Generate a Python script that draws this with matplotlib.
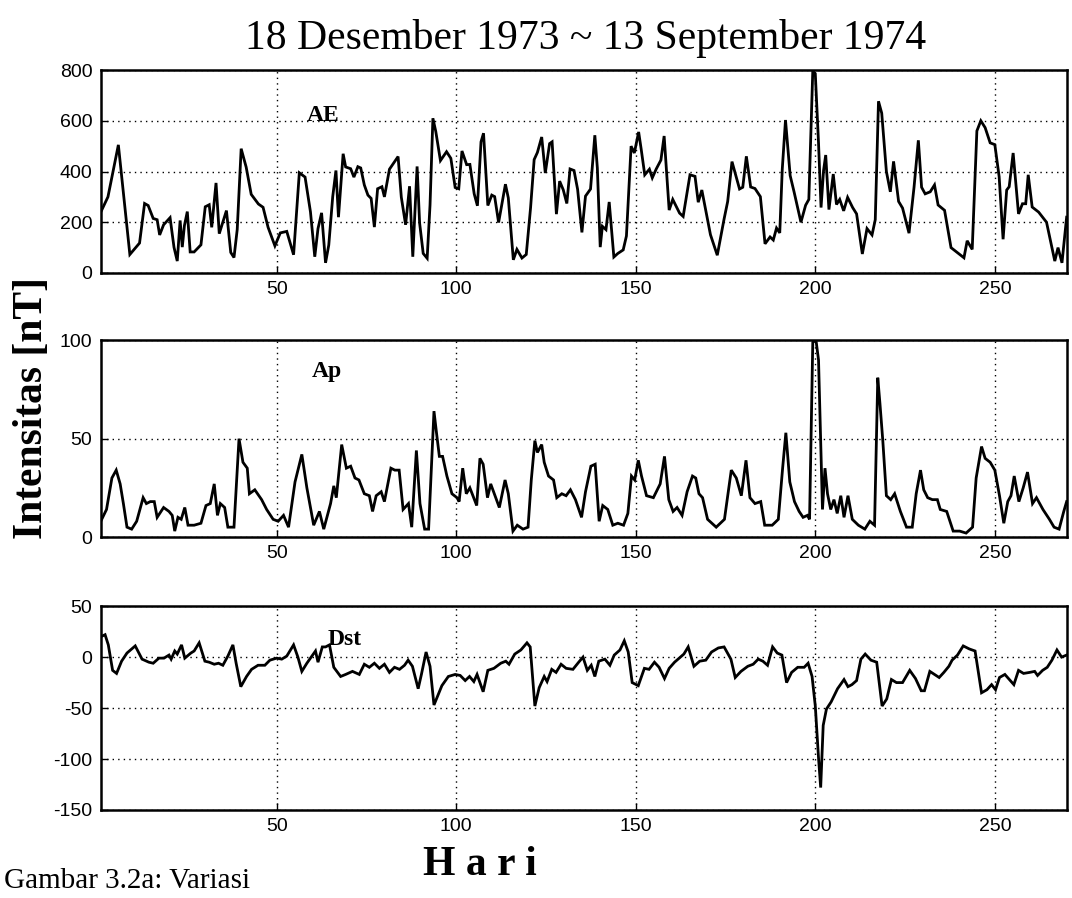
import matplotlib
matplotlib.use("Agg")
import matplotlib.pyplot as plt

# ---------------- data ----------------
title_text = "18 Desember 1973 ~ 13 September 1974"
panel_names = ["AE", "Ap", "Dst"]

ae_days = [1, 3, 5.9, 9.1, 11.8, 13.2, 14.2, 15.6, 16.7, 17.4, 18.5, 20.3, 21.4, 22.3, 23.1, 23.7, 24.3, 25.1,
           25.9, 27, 28.9, 30.1, 31.2, 31.9, 33.1, 34, 36, 37.2, 38.1, 39, 40.1, 41.5, 42.9, 44.9, 46.2, 47.6,
           49.5, 51, 52.8, 54.7, 56.3, 57.9, 59.4, 60.6, 61.5, 62.5, 63.6, 64.5, 65.6, 66.5, 67.2, 68.5, 69.2,
           70.6, 71.5, 72.6, 73.4, 74.4, 75.4, 76.3, 77.2, 78.1, 79.3, 80, 81.4, 82.8, 83.8, 84.7, 85.9, 87,
           87.9, 89.1, 89.8, 90.8, 91.9, 92.7, 93.5, 94.3, 95.6, 97.3, 98.5, 99.7, 100.7, 101.6, 102.9, 103.8,
           105, 105.9, 106.9, 107.6, 108.8, 109.9, 110.7, 111.8, 113.7, 114.5, 115.9, 116.9, 118.3, 119.5,
           120.7, 121.7, 122.6, 123.8, 124.8, 126, 126.7, 127.9, 128.8, 129.8, 130.8, 131.7, 132.8, 133.8,
           135, 136, 137.4, 138.6, 139.3, 140.1, 140.7, 141.7, 142.6, 143.9, 145, 146.5, 147.4, 148.7, 149.6,
           150.8, 151.5, 152.5, 153.8, 154.6, 155.7, 157, 157.9, 159.3, 160.3, 162.2, 163.2, 165.1, 166.5,
           167.4, 168.4, 170.8, 172.7, 174.6, 175.6, 176.8, 178.9, 179.8, 180.8, 182, 183.2, 184.7, 186,
           187.4, 188.3, 189.2, 190.1, 190.8, 191.7, 193, 194.1, 196, 197.3, 198.2, 199.3, 200, 200.9, 201.6,
           202.3, 202.9, 203.8, 205, 205.9, 206.8, 207.9, 209, 210.4, 211.5, 213.1, 214.4, 215.8, 216.7,
           217.6, 218.5, 219.8, 220.9, 221.8, 223.2, 224.3, 226.1, 227.5, 228.7, 229.6, 230.6, 232, 233.2,
           234.2, 236, 237.8, 239.6, 241.4, 242.3, 243.7, 245, 246.1, 247.3, 248.7, 250, 251.2, 252.3, 253.3,
           254, 255.1, 256.6, 257.7, 258.6, 259.3, 260.4, 262.2, 264.4, 266.7, 267.6, 268.7, 270]
ae_vals = [240, 300, 505, 73, 118, 274, 266, 215, 210, 150, 190, 218, 101, 47, 207, 102, 187, 242,
           83, 83, 111, 261, 269, 180, 355, 155, 246, 81, 61, 171, 490, 417, 310, 272, 259, 180,
           107, 158, 164, 72, 395, 378, 241, 64, 175, 237, 40, 110, 301, 404, 220, 470, 418,
           411, 378, 419, 414, 347, 307, 294, 181, 332, 340, 300, 409, 438, 459, 299, 190, 342,
           64, 420, 197, 77, 58, 268, 610, 558, 443, 478, 452, 337, 332, 481, 427, 428,
           312, 265, 517, 551, 266, 307, 301, 199, 350, 296, 52, 93, 59, 73,
           257, 447, 475, 536, 394, 510, 517, 232, 362, 328, 274, 410, 404, 330,
           160, 303, 331, 543, 414, 102, 184, 171, 280, 63, 77, 91, 146, 500, 473,
           556, 489, 387, 409, 375, 410, 445, 540, 248, 290, 236, 223, 387, 381,
           279, 327, 151, 70, 213, 282, 439, 331, 338, 460, 339, 333, 301, 115,
           142, 130, 177, 158, 409, 603, 384, 319, 200, 267, 290, 797, 785, 512, 258,
           404, 465, 250, 390, 270, 290, 245, 298, 258, 233, 75, 175, 150, 210,
           677, 630, 400, 320, 440, 282, 256, 157, 338, 523, 338, 312, 320, 347,
           268, 247, 100, 80, 60, 127, 93, 560, 600, 573, 513, 506, 380, 133, 327,
           340, 473, 233, 273, 273, 387, 260, 240, 200, 47, 100, 40, 220]

ap_days = [1, 2.6, 4.1, 5.3, 6.4, 7.3, 8.3, 9.6, 11, 12.8, 13.7, 14.8, 15.9, 16.7, 18.5, 20, 20.9, 21.6,
           22.5, 23.4, 24.4, 25.3, 27, 28.9, 30.3, 31.5, 32.6, 33.5, 34.3, 35.5, 36.4, 38.1, 39.5, 40.6,
           41.8, 42.4, 43.9, 45.8, 47.2, 49, 50.4, 51.9, 53.3, 55.1, 57, 58.4, 60.3, 61.9, 63.1, 65, 65.9,
           66.6, 68.1, 69.4, 70.6, 71.8, 72.9, 74.4, 75.8, 76.7, 77.7, 79.1, 80, 81.8, 82.9, 84.1, 85.2,
           86.7, 87.6, 88.9, 89.9, 91.2, 92.3, 93.8, 94.5, 95.3, 96.2, 97.4, 98.8, 100.2, 100.8, 101.8,
           102.8, 103.8, 105.7, 106.6, 107.5, 108.7, 109.6, 110.6, 112, 113.6, 114.5, 115.8, 117, 118.6,
           120, 120.9, 121.9, 122.6, 123.8, 124.5, 125.7, 127.1, 128, 129.4, 130.6, 131.8, 133.2, 134.9,
           136, 137.5, 138.7, 139.8, 140.8, 142.2, 143.6, 145, 146.6, 147.8, 148.8, 149.7, 150.7, 151.6,
           153, 154.9, 156.8, 158, 159.2, 160.4, 161.5, 162.9, 164.3, 165.8, 166.7, 167.6, 168.6, 170,
           172.4, 174.7, 176.6, 178, 179.4, 180.7, 181.8, 183.2, 184.8, 185.9, 188, 189.7, 190.9, 191.8,
           192.9, 194.2, 195.5, 196.6, 197.8, 198.4, 199.3, 200.2, 200.9, 202, 202.7, 203.4, 204.3, 205.2,
           206.1, 207.1, 208, 209.1, 210.3, 212, 213.8, 215.2, 216.5, 217.4, 218, 218.8, 219.8, 221, 222.1,
           223.7, 225.4, 227, 228.1, 229.3, 230.2, 231.3, 232.6, 234, 234.8, 236.6, 238.4, 240.2, 242,
           243.8, 244.8, 246.3, 247.3, 248.7, 250, 251.3, 252.5, 253.6, 254.5, 255.4, 256.7, 257.9, 259.1,
           260.5, 261.6, 263.4, 265.2, 266.5, 267.9, 269.2, 270]
ap_vals = [8, 14, 30, 34, 27, 17, 5, 4, 8, 20, 17, 18, 18, 10, 15, 13, 11, 3,
           10, 9, 15, 6, 6, 7, 16, 17, 27, 11, 17, 15, 5, 5, 50, 38,
           35, 22, 24, 19, 14, 9, 8, 11, 5, 28, 42, 25, 6, 13, 4, 17, 26,
           20, 47, 35, 36, 30, 29, 22, 21, 13, 21, 23, 18, 35, 34, 34, 14,
           17, 5, 44, 17, 4, 4, 64, 53, 41, 41, 31, 22, 20, 18, 35,
           22, 25, 16, 40, 37, 20, 27, 22, 15, 29, 22, 3, 6, 4,
           5, 29, 49, 43, 47, 38, 31, 29, 20, 22, 21, 24, 19, 10,
           23, 36, 37, 8, 16, 14, 6, 7, 6, 12, 31, 29, 39, 31,
           21, 20, 27, 41, 19, 13, 15, 11, 23, 31, 30, 22, 20, 9,
           5, 9, 34, 30, 21, 39, 20, 17, 18, 6, 6, 9, 35, 53,
           28, 18, 13, 10, 11, 9, 99, 100, 90, 14, 35, 22, 14, 19,
           12, 21, 10, 21, 9, 6, 4, 8, 6, 81, 68, 49, 21, 19, 22,
           13, 5, 5, 22, 34, 24, 20, 19, 19, 14, 13, 3, 3, 2,
           5, 30, 46, 40, 38, 34, 21, 7, 18, 21, 31, 18, 25, 33,
           17, 20, 14, 9, 5, 4, 13, 18]

dst_days = [1, 2.2, 3.1, 4.3, 5.4, 6.8, 8.3, 10.6, 12.5, 14.4, 15.6, 17.2, 18.6, 20, 20.6, 21.6, 22.3,
            23.5, 24.4, 26.1, 27, 28.4, 30, 31.2, 32.6, 33.8, 35, 36.4, 37.8, 38.7, 40, 41.6, 43, 44.8,
            46.7, 48.1, 50, 51.4, 52.8, 54.7, 55.9, 57, 58.4, 59.8, 60.8, 61.5, 62.7, 63.6, 64.7, 65.9,
            67.8, 69.2, 71.1, 73, 74.4, 75.8, 77.2, 78.6, 80, 81.4, 82.8, 84.2, 85.6, 86.6, 87.8, 89.4,
            90.3, 91.6, 92.7, 93.8, 96, 97.8, 99.7, 101.1, 102.5, 103.7, 104.9, 105.8, 107.5, 108.8,
            110.5, 112.4, 113.8, 114.7, 116.3, 118, 119.7, 120.6, 121.9, 123.1, 124.5, 125.3, 126.6,
            127.8, 129.2, 130.6, 132.5, 134.1, 135.3, 136.5, 137.6, 138.6, 139.7, 141.4, 142.8, 144,
            145.6, 146.8, 147.9, 149, 150.7, 152.4, 153.7, 155.2, 156.5, 158, 159.3, 160.8, 162.4,
            163.4, 164.6, 166.2, 167.8, 169.5, 171.1, 173, 174.6, 176.5, 177.7, 179.3, 181.2, 182.7,
            184.1, 185.4, 186.7, 188.1, 189.4, 190.7, 192, 193.4, 195.1, 196.9, 198, 199.1, 200, 200.9,
            201.5, 202.2, 203.1, 204.4, 206.2, 208, 209.1, 210.2, 211.5, 212.7, 213.9, 215.5, 217.1,
            218.6, 219.9, 221.2, 222.6, 224.3, 226.3, 227.9, 229.5, 230.4, 231.9, 233.2, 234.5, 235.8,
            237.2, 238.1, 239.6, 241.2, 242.9, 244.5, 246.3, 247.8, 249.1, 250.2, 251.3, 252.8, 254.3,
            255.3, 256.6, 258, 259.7, 261.1, 261.9, 263.3, 264.6, 265.9, 267.3, 268.6, 270]
dst_vals = [20, 22, 12, -13, -16, -4, 4, 11, -2, -5, -6, -1, -1, 2, -2, 6, 3,
            12, -1, 4, 6, 14, -4, -5, -7, -6, -8, 1, 12, -6, -29, -19, -12, -8,
            -8, -3, -1, -2, 1, 12, 0, -14, -6, 1, 6, -5, 10, 10, 12, -10,
            -19, -17, -14, -17, -7, -10, -6, -11, -7, -15, -10, -12, -8, -3, -9, -31,
            -17, 5, -9, -47, -28, -19, -17, -18, -23, -19, -24, -17, -34, -13,
            -11, -6, -4, -7, 3, 7, 14, 10, -48, -30, -19, -24, -12,
            -15, -7, -11, -12, -5, 0, -13, -8, -19, -4, -2, -8, 2,
            7, 16, 5, -25, -28, -11, -12, -5, -10, -21, -11, -5, 0,
            3, 10, -9, -4, -3, 5, 9, 10, -2, -20, -14, -9, -7,
            -2, -4, -8, 10, 4, 2, -25, -15, -10, -10, -6, -19, -48, -99,
            -128, -67, -51, -44, -31, -22, -29, -27, -23, -2, 3, -3, -5,
            -48, -41, -22, -25, -25, -13, -21, -33, -33, -14, -17, -20, -15,
            -9, -3, 2, 11, 8, 6, -35, -32, -27, -32, -20, -17, -23,
            -27, -13, -16, -15, -14, -18, -13, -10, -3, 7, 0, 2]

x_ticks = [50, 100, 150, 200, 250]
ae_ticks = [0, 200, 400, 600, 800]
ap_ticks = [0, 50, 100]
dst_ticks = [-150, -100, -50, 0, 50]

# ---------------- figure ----------------
SERIF = ["Liberation Serif", "DejaVu Serif"]
SANS = ["Liberation Sans", "DejaVu Sans"]
plt.rcParams["font.family"] = SANS
plt.rcParams["axes.unicode_minus"] = False

fig = plt.figure(figsize=(10.72, 8.98), dpi=100)

panels = [
    (ae_days, ae_vals, ae_ticks, (0, 800), [0.094, 0.696, 0.901, 0.226], (63, 620), "AE"),
    (ap_days, ap_vals, ap_ticks, (0, 100), [0.094, 0.402, 0.901, 0.219], (64, 84), "Ap"),
    (dst_days, dst_vals, dst_ticks, (-150, 50), [0.094, 0.098, 0.901, 0.227], (69, 17), "Dst"),
]

for days, vals, yt, ylim, rect, lab_pos, name in panels:
    ax = fig.add_axes(rect)
    ax.plot(days, vals, color="black", lw=2.0, solid_joinstyle="miter")
    ax.set_xlim(1, 270)
    ax.set_ylim(*ylim)
    ax.set_xticks(x_ticks)
    ax.set_yticks(yt)
    ax.tick_params(direction="in", length=5, width=1, labelsize=14, pad=6, colors="black")
    ax.grid(True, color="black", linestyle=(0, (1, 3)), linewidth=1.0)
    for sp in ax.spines.values():
        sp.set_linewidth(1.8)
        sp.set_color("black")
    ax.text(lab_pos[0], lab_pos[1], name, fontfamily=SERIF, fontweight="bold",
            fontsize=17, ha="center", va="center")

fig.text(0.546, 0.957, title_text, fontfamily=SERIF, fontsize=30, ha="center", va="center")
fig.text(0.030, 0.546, "Intensitas [nT]", fontfamily=SERIF, fontweight="bold", fontsize=30,
         rotation=90, ha="center", va="center")
fig.text(0.448, 0.037, "H a r i", fontfamily=SERIF, fontweight="bold", fontsize=30,
         ha="center", va="center")
fig.text(0.004, 0.004, "Gambar 3.2a: Variasi", fontfamily=SERIF, fontsize=21,
         ha="left", va="bottom")

fig.savefig("out.png", dpi=100)
